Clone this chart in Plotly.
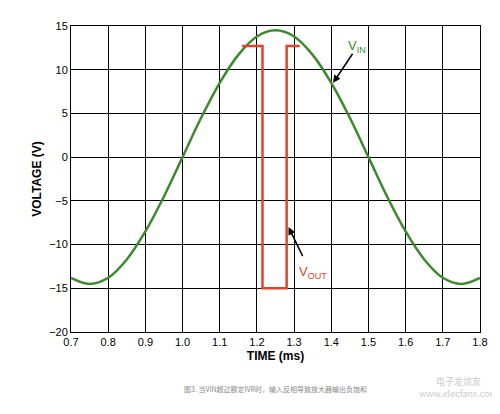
import plotly.graph_objects as go

# V_IN (ms, V)
t_in = [0.70, 0.75, 0.80, 0.85, 0.90, 0.95, 1.00, 1.05, 1.10, 1.15, 1.20, 1.25,
        1.30, 1.35, 1.40, 1.45, 1.50, 1.55, 1.60, 1.65, 1.70, 1.75, 1.80]
v_in = [-13.8, -14.5, -13.8, -11.7, -8.5, -4.5, 0.0, 4.5, 8.5, 11.7, 13.8, 14.5,
        13.8, 11.7, 8.5, 4.5, 0.0, -4.5, -8.5, -11.7, -13.8, -14.5, -13.8]

# V_OUT
t_out = [1.16, 1.215, 1.215, 1.28, 1.28, 1.315]
v_out = [12.7, 12.7, -15.0, -15.0, 12.7, 12.7]

fig = go.Figure()
fig.add_trace(go.Scatter(x=t_in, y=v_in, mode="lines", line=dict(color="#3c8a2e", width=2.5, shape="spline"),
                         showlegend=False))
fig.add_trace(go.Scatter(x=t_out, y=v_out, mode="lines", line=dict(color="#e0452b", width=2.5),
                         showlegend=False))

fig.add_annotation(x=1.405, y=8.5, ax=1.46, ay=12.0, xref="x", yref="y", axref="x", ayref="y",
                   text="", showarrow=True, arrowhead=2, arrowsize=1, arrowwidth=1.5, arrowcolor="black")
fig.add_annotation(x=1.47, y=12.7, text="V<sub>IN</sub>", showarrow=False, xanchor="center",
                   font=dict(color="#3c8a2e", size=13))
fig.add_annotation(x=1.285, y=-8.0, ax=1.325, ay=-11.5, xref="x", yref="y", axref="x", ayref="y",
                   text="", showarrow=True, arrowhead=2, arrowsize=1, arrowwidth=1.5, arrowcolor="black")
fig.add_annotation(x=1.35, y=-13.2, text="V<sub>OUT</sub>", showarrow=False, xanchor="center",
                   font=dict(color="#e0452b", size=13))

fig.add_annotation(x=0.5, y=-0.21, xref="paper", yref="paper", showarrow=False,
                   text="图3. 当VIN超过额定IVR时，输入反相导致放大器输出负饱和",
                   font=dict(size=7, color="#888888", family="Noto Sans CJK SC"))
fig.add_annotation(x=1.05, y=-0.23, xref="paper", yref="paper", showarrow=False, xanchor="right",
                   text="电子发烧友<br>www.elecfans.com",
                   font=dict(size=9, color="#cccccc", family="Noto Sans CJK SC"))

axis_style = dict(showgrid=True, gridcolor="black", gridwidth=1, showline=True, linecolor="black",
                  mirror=True, zeroline=False, ticks="", tickfont=dict(size=11, color="black"))
fig.update_xaxes(range=[0.7, 1.8], dtick=0.1, tickformat=".1f",
                 title=dict(text="<b>TIME (ms)</b>", font=dict(size=12, color="black"), standoff=4), **axis_style)
fig.update_yaxes(range=[-20, 15], dtick=5,
                 title=dict(text="<b>VOLTAGE (V)</b>", font=dict(size=12, color="black"), standoff=4), **axis_style)

fig.update_layout(width=500, height=414, paper_bgcolor="white", plot_bgcolor="white",
                  font=dict(family="Liberation Sans"),
                  margin=dict(l=63, r=28, t=12, b=90))

fig.write_html("out.html")
